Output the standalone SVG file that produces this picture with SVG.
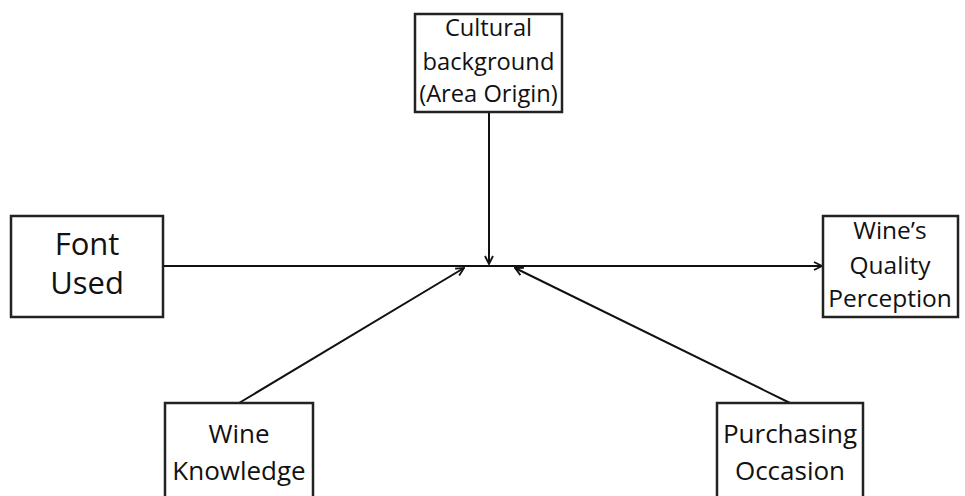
<svg xmlns="http://www.w3.org/2000/svg" width="965" height="496" viewBox="0 0 965 496">
<defs>
<style>
.box{fill:#fff;stroke:#222;stroke-width:2.5}
.t{font-family:"Open Sans",sans-serif;fill:#111;text-anchor:middle}
.c{stroke:#111;stroke-width:2;fill:none}
</style>
<marker id="ah" viewBox="0 0 10 10" refX="9" refY="5" markerWidth="10" markerHeight="10" markerUnits="userSpaceOnUse" orient="auto">
<path d="M1,1 L9,5 L1,9" fill="none" stroke="#111" stroke-width="1.8"/>
</marker>
</defs>
<rect width="965" height="496" fill="#fff"/>
<g id="connectors">
<line class="c" x1="163" y1="266" x2="822" y2="266" marker-end="url(#ah)"/>
<line class="c" x1="489" y1="112" x2="489" y2="264" marker-end="url(#ah)"/>
<line class="c" x1="239" y1="403" x2="464" y2="268" marker-end="url(#ah)"/>
<line class="c" x1="790" y1="403" x2="515" y2="268" marker-end="url(#ah)"/>
</g>
<g id="cultural">
<rect class="box" x="415" y="14" width="147" height="98"/>
<text class="t" font-size="23.7" x="488.5" y="36">Cultural</text>
<text class="t" font-size="23.7" x="488.5" y="70">background</text>
<text class="t" font-size="23.7" x="488.5" y="102">(Area Origin)</text>
</g>
<g id="font">
<rect class="box" x="11" y="216" width="152" height="101"/>
<text class="t" font-size="31" x="87" y="255">Font</text>
<text class="t" font-size="31" x="87" y="294">Used</text>
</g>
<g id="quality">
<rect class="box" x="823" y="216" width="135" height="101"/>
<text class="t" font-size="24.5" x="890" y="239">Wine’s</text>
<text class="t" font-size="24.5" x="890" y="274">Quality</text>
<text class="t" font-size="24.5" x="890" y="307">Perception</text>
</g>
<g id="knowledge">
<rect class="box" x="165" y="403" width="148" height="100"/>
<text class="t" font-size="26" x="239" y="443">Wine</text>
<text class="t" font-size="26" x="239" y="480">Knowledge</text>
</g>
<g id="occasion">
<rect class="box" x="717" y="403" width="146" height="100"/>
<text class="t" font-size="26" x="790" y="443">Purchasing</text>
<text class="t" font-size="26" x="790" y="480">Occasion</text>
</g>
</svg>
